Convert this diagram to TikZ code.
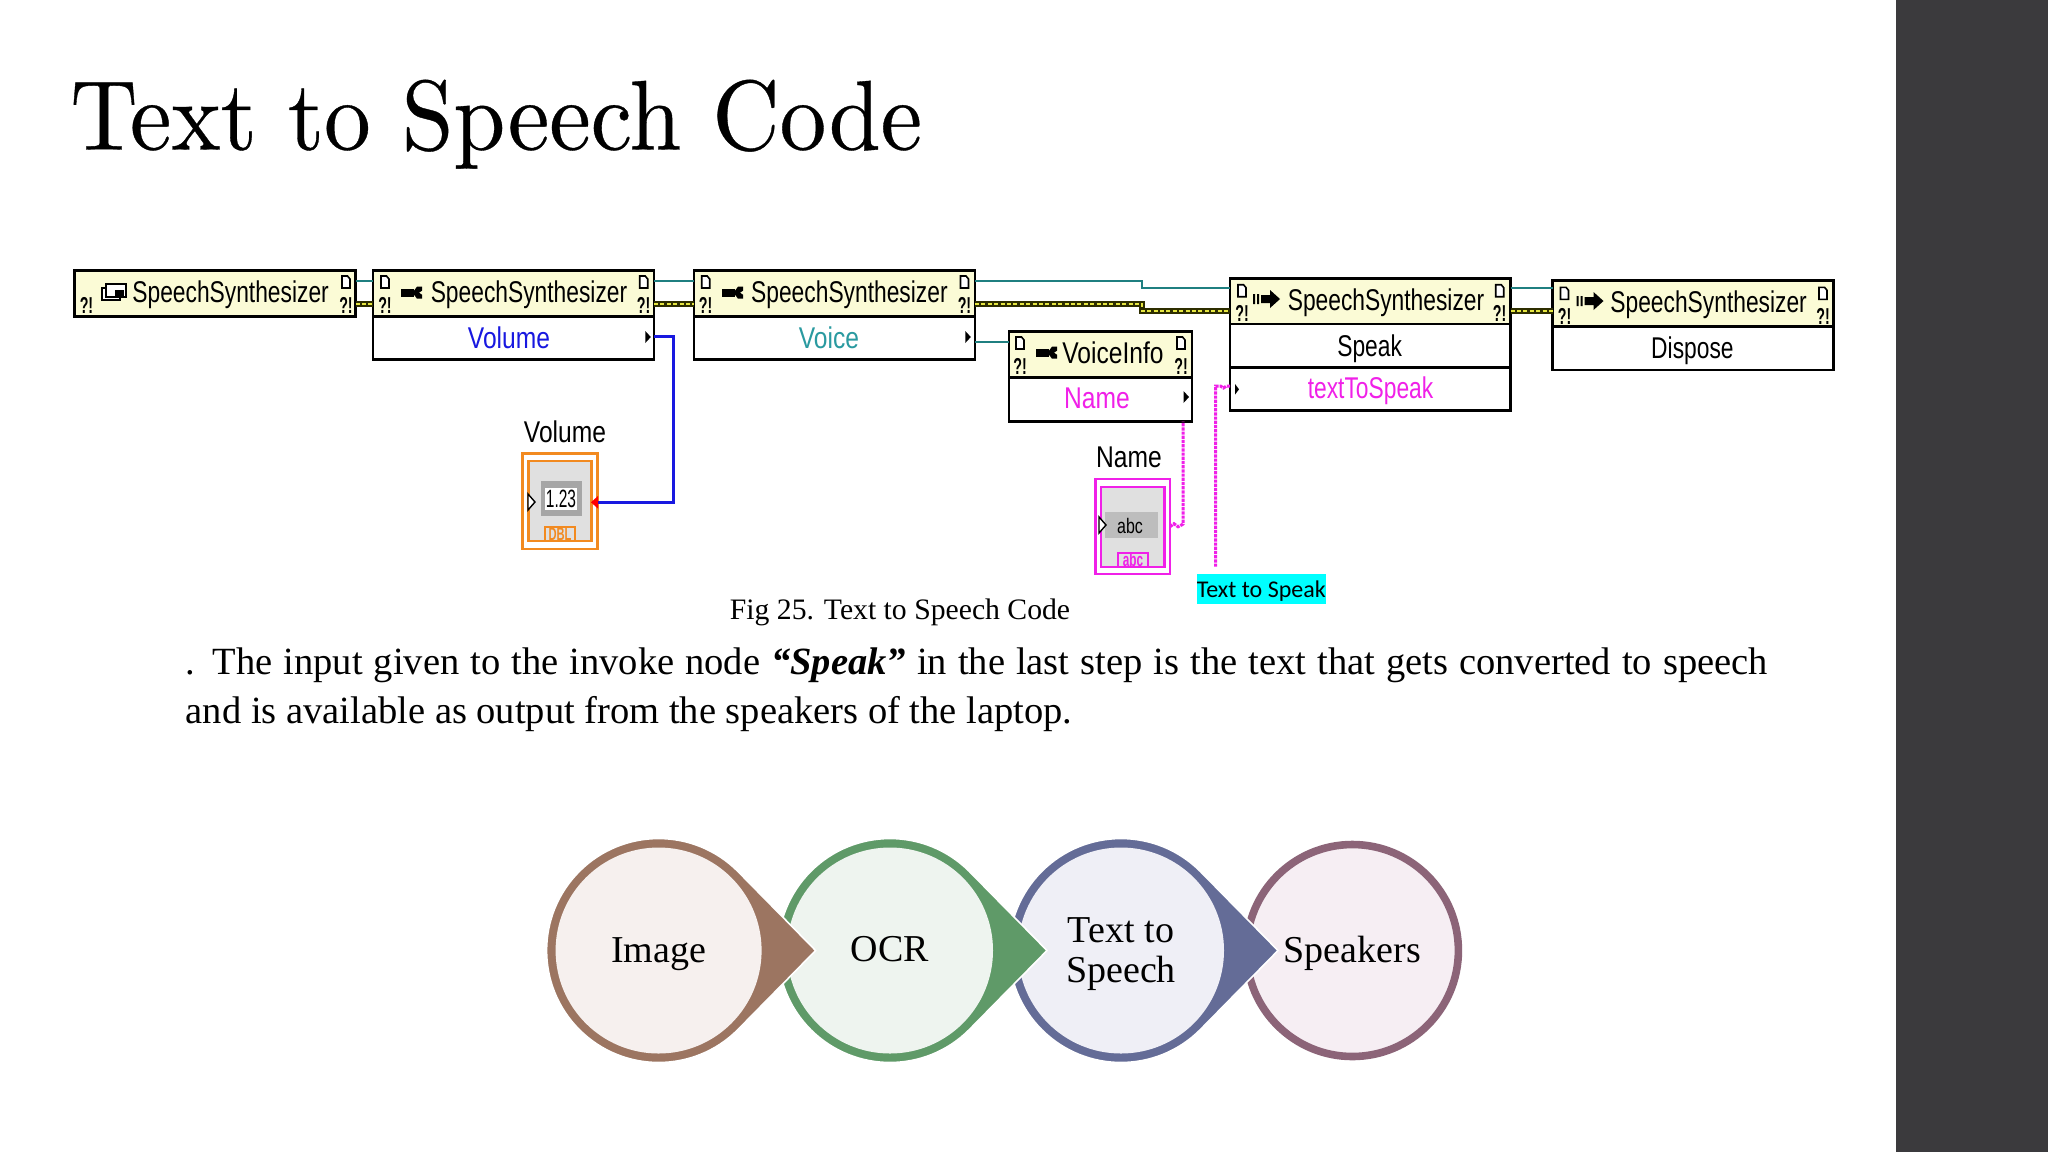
\documentclass[tikz,border=0pt]{standalone}
\usepackage{fontspec}
\newfontfamily\lvfont[FakeStretch=0.76]{Liberation Sans}
\newfontfamily\lvwide[FakeStretch=0.82]{Liberation Sans}
\newfontfamily\lvtiny[FakeStretch=0.62]{Liberation Sans}
\newfontfamily\serfont{Liberation Serif}
\newfontfamily\calfont{Carlito}
\newfontfamily\titlef[FakeBold=0.35]{Latin Modern Roman}
\definecolor{lvhead}{HTML}{FBFBD6}
\definecolor{tealw}{HTML}{1F7F80}
\definecolor{bluew}{HTML}{1818E0}
\definecolor{pinkw}{HTML}{F020E8}
\definecolor{orangew}{HTML}{F28A20}
\definecolor{voicec}{HTML}{2A9AA0}
\definecolor{sidebar}{HTML}{3B3A3D}
\definecolor{oliveb}{HTML}{2E2E00}
\definecolor{yellw}{HTML}{E6E640}
\definecolor{cyanl}{HTML}{00FFFF}
\definecolor{brownc}{HTML}{9C7561}\definecolor{brownf}{HTML}{F6F0EE}
\definecolor{greenc}{HTML}{5F9A68}\definecolor{greenf}{HTML}{EEF4EF}
\definecolor{bluec}{HTML}{646C97}\definecolor{bluef}{HTML}{EFEFF6}
\definecolor{mauvec}{HTML}{8C6478}\definecolor{mauvef}{HTML}{F6EEF3}
\newcommand\lvrect[6]{\node[#6, minimum width={(#4-#2)*0.5pt}, minimum height={(#5-#3)*0.5pt}] (#1) at ({(#2+#4)/2},{(#3+#5)/2}) {};}
\tikzset{
  x=0.5pt,y=-0.5pt,
  boxbase/.style={draw=black,line width=1.3pt,inner sep=0pt,outer sep=0pt},
  headbox/.style={boxbase,fill=lvhead},
  bodybox/.style={boxbase,fill=white},
  lvlabel/.style={inner sep=0pt,font=\lvfont\fontsize{15}{16}\selectfont},
  lvwlabel/.style={inner sep=0pt,font=\lvwide\fontsize{15}{16}\selectfont},
  tealwire/.style={draw=tealw,line width=1pt},
  refwire/.style={draw=oliveb,line width=3.4pt},
  refdots/.style={draw=yellw,line width=1.3pt,dash pattern=on 2pt off 1.2pt},
  bluewire/.style={draw=bluew,line width=1.4pt},
  pinkwire/.style={draw=pinkw,line width=1.5pt,dash pattern=on 1.6pt off .5pt},
  lverr/.style={inner sep=0pt,font=\lvtiny\bfseries\fontsize{11.5}{12}\selectfont},
  corner/.pic={
    \draw[line width=.8pt,fill=white] (-4,-6) -- (1.5,-6) -- (4,-3) -- (4,6) -- (-4,6) -- cycle;
    \node[lverr] (-e) at (0,23) {?!};
  },
  erronly/.pic={\node[lverr] (-e) at (0,0) {?!};},
  propicon/.pic={
    \fill (-10,-4) rectangle (3,4);
    \fill (3,-2) -- (6,-6) -- (11,-6) -- (11,-2) -- (8,0) -- (11,2) -- (11,6) -- (6,6) -- (3,2) -- cycle;
  },
  invicon/.pic={
    \fill (-14,-5) rectangle (-12,5) (-10,-5) rectangle (-8,5);
    \fill (-6,-4) rectangle (3,4) (3,-9) -- (13,0) -- (3,9) -- cycle;
  },
  newicon/.pic={
    \draw[line width=.8pt,fill=white] (-11,-5) rectangle (7,7);
    \draw[line width=.8pt,fill=white] (-7,-9) rectangle (13,4);
    \fill (2,-3) rectangle (11,3);
  },
  outtri/.pic={\fill (-2.5,-6) -- (3,0) -- (-2.5,6) -- cycle;},
  intri/.pic={\draw[line width=.7pt,fill=white] (-3,-8) -- (4,0) -- (-3,8) -- cycle;},
  circfill/.style={circle,inner sep=0pt,minimum size=103pt},
  circtext/.style={inner sep=0pt,align=center,text=black,font=\serfont\fontsize{19}{20}\selectfont},
}
\begin{document}
\begin{tikzpicture}
\useasboundingbox (0,0) rectangle (2048,1152);
\fill[white] (0,0) rectangle (2048,1152);
\fill[sidebar] (1896,0) rectangle (2048,1152);

\node[anchor=base west,inner sep=0pt,font=\titlef\fontsize{10}{12}\selectfont] (title) at (70,149.5) {\scalebox{4.66}[4.95]{Text to Speech Code}};

% wire levels
\coordinate (lt) at (0,280.7);
\coordinate (lt2) at (0,288.3);
\coordinate (ly) at (0,304);
\coordinate (ly2) at (0,311);
\coordinate (lv) at (0,336.7);
\coordinate (lvo) at (0,341.7);
\coordinate (lb) at (0,502.3);
\coordinate (lp) at (0,526.7);
\coordinate (ls) at (0,386);
\coordinate (mtop) at (1142,0);
\coordinate (xb) at (673.5,0);
\coordinate (xp) at (1183,0);
\coordinate (xs) at (1215.5,0);
\coordinate (sfree) at (1215.5,566.7);

% boxes
\lvrect{h1}{74.3}{270.7}{355.5}{316.7}{headbox}
\lvrect{b2}{373}{316.7}{654}{359.3}{bodybox}
\lvrect{h2}{373}{270.7}{654}{316.7}{headbox}
\lvrect{b3}{694}{316.7}{975}{359.3}{bodybox}
\lvrect{h3}{694}{270.7}{975}{316.7}{headbox}
\lvrect{b4}{1009}{377.3}{1192}{421.7}{bodybox}
\lvrect{h4}{1009}{331.7}{1192}{377.3}{headbox}
\lvrect{b5a}{1230}{324}{1510.6}{367.3}{bodybox}
\lvrect{b5b}{1230}{367.3}{1510.6}{410.7}{bodybox}
\lvrect{h5}{1230}{278.3}{1510.6}{324}{headbox}
\lvrect{b6}{1552.7}{326.7}{1833.4}{370}{bodybox}
\lvrect{h6}{1552.7}{280.7}{1833.4}{326.7}{headbox}

% reference wires
\foreach \a/\b/\l in {h1/h2/ly,h2/h3/ly}{
  \draw[refwire] (\a.east |- \l) -- (\b.west |- \l);
  \draw[refdots] (\a.east |- \l) -- (\b.west |- \l);
}
\draw[refwire] (h3.east |- ly) -- (mtop |- ly) -- (mtop |- ly2) -- (h5.west |- ly2);
\draw[refdots] (h3.east |- ly) -- (mtop |- ly) -- (mtop |- ly2) -- (h5.west |- ly2);
\draw[refwire] (h5.east |- ly2) -- (h6.west |- ly2);
\draw[refdots] (h5.east |- ly2) -- (h6.west |- ly2);
% session wires
\draw[tealwire] (h1.east |- lt) -- (h2.west |- lt);
\draw[tealwire] (h2.east |- lt) -- (h3.west |- lt);
\draw[tealwire] (h3.east |- lt) -- (mtop |- lt) -- (mtop |- lt2) -- (h5.west |- lt2);
\draw[tealwire] (h5.east |- lt2) -- (h6.west |- lt2);
\draw[tealwire] (b3.east |- lvo) -- (h4.west |- lvo);

% Volume terminal
\lvrect{vo}{522.5}{453.3}{597.5}{549}{draw=orangew,line width=1.2pt,fill=white,inner sep=0pt,outer sep=0pt}
\lvrect{vi}{528.6}{460.7}{591.4}{540.7}{draw=orangew,line width=1.2pt,fill=black!12,inner sep=0pt,outer sep=0pt}
\lvrect{vd}{541}{481}{581.6}{515.7}{fill=black!35,inner sep=0pt}
\node[fill=white,minimum width=16pt,minimum height=11pt,inner sep=0pt,font=\lvtiny\fontsize{12.5}{13}\selectfont] (vn) at (561,499) {1.23};
\node[draw=orangew,line width=1pt,fill=black!12,text=orangew,minimum width=15pt,minimum height=7pt,inner sep=0pt,font=\lvtiny\bfseries\fontsize{9}{9}\selectfont] (vt) at (560,534) {DBL};
\pic at (531,502) {intri};
\node[lvwlabel] (vl) at (565,431.7) {Volume};
\draw[bluewire] (b2.east |- lv) -- (xb |- lv) -- (xb |- lb) -- (vo.east |- lb);
\fill[red] (591,502.3) -- (598,496) -- (598,508.6) -- cycle;

% Name terminal
\lvrect{no}{1095.5}{479}{1170}{574}{draw=pinkw,line width=1.2pt,fill=white,inner sep=0pt,outer sep=0pt}
\lvrect{ni}{1101}{486.7}{1164.5}{566.7}{draw=pinkw,line width=1.2pt,fill=black!12,inner sep=0pt,outer sep=0pt}
\lvrect{nd}{1105}{511.7}{1158}{538.3}{fill=black!26,inner sep=0pt}
\node[inner sep=0pt,font=\lvfont\fontsize{10.5}{11}\selectfont] (nn) at (1130,526) {abc};
\node[draw=pinkw,line width=1pt,fill=black!12,text=pinkw,minimum width=15pt,minimum height=7pt,inner sep=0pt,font=\lvtiny\bfseries\fontsize{9.5}{9}\selectfont] (nt) at (1133,560) {abc};
\pic at (1102,525) {intri};
\node[lvwlabel] (nl) at (1129,457.3) {Name};
\draw[pinkwire] (no.east |- lp) -- ++(4,-3) -- ++(4,3) -- ++(4,-2) -- (xp |- 0,524) -- (xp |- b4.south);
\draw[pinkwire] (sfree) -- (xs |- ls) -- ++(5,0) -- ++(3,2) -- ++(3,-2) -- (h5.west |- ls);

% header labels
\node[lvlabel] (t1) at (230.6,295) {SpeechSynthesizer};
\node[lvlabel] (t2) at (529,295) {SpeechSynthesizer};
\node[lvlabel] (t3) at (849.4,295) {SpeechSynthesizer};
\node[lvwlabel] (t4) at (1113,352.7) {VoiceInfo};
\node[lvlabel] (t5) at (1386,303.2) {SpeechSynthesizer};
\node[lvlabel] (t6) at (1708.6,304.5) {SpeechSynthesizer};
\node[lvwlabel,text=bluew] (p2) at (509,337.3) {Volume};
\node[lvwlabel,text=voicec] (p3) at (829,337.3) {Voice};
\node[lvwlabel,text=pinkw] (p4) at (1097,398.8) {Name};
\node[lvlabel] (p5) at (1369.6,348.5) {Speak};
\node[lvlabel,text=pinkw] (p5b) at (1370.5,390.8) {textToSpeak};
\node[lvlabel] (p6) at (1692.4,350.8) {Dispose};

% icons
\pic at (113,292.7) {newicon};
\pic at (411,292.7) {propicon};
\pic at (732,292.7) {propicon};
\pic at (1046,352.7) {propicon};
\pic at (1267,299) {invicon};
\pic at (1590.5,301) {invicon};
\pic (e1) at (86.5,305) {erronly};
\pic (c1r) at (346,282) {corner};
\pic (c2l) at (385,282) {corner};
\pic (c2r) at (643.7,282) {corner};
\pic (c3l) at (705.7,282) {corner};
\pic (c3r) at (964.5,282) {corner};
\pic (c4l) at (1020,343) {corner};
\pic (c4r) at (1181,343) {corner};
\pic (c5l) at (1242,290.7) {corner};
\pic (c5r) at (1499.7,290.7) {corner};
\pic (c6l) at (1564.5,293.3) {corner};
\pic (c6r) at (1823,293.3) {corner};
\pic at (647.8,337) {outtri};
\pic at (967.8,337) {outtri};
\pic at (1186,397) {outtri};
\fill (1235,384) -- (1239,389.3) -- (1235,394.6) -- cycle;

% cyan label
\node[inner sep=0pt,minimum width=64pt,minimum height=15pt,fill=cyanl,font=\calfont\fontsize{12}{13}\selectfont] (ts) at (1261.3,589.2) {\raisebox{-4pt}[0pt][0pt]{Text to Speak}};

% caption and body
\node[inner sep=0pt,font=\serfont\fontsize{14.85}{16}\selectfont] (cap) at (900,612.5) {Fig 25. Text to Speech Code};
\node[anchor=base west,inner sep=0pt,text width=791pt,align=justify,font=\serfont\fontsize{19.25}{24.7}\selectfont] (body) at (185.5,674)
 {. The input given to the invoke node \textbf{\textit{“Speak”}} in the last step is the text that gets converted to speech\linebreak and is available as output from the speakers of the laptop.};

% process chain (last first, so each arrow lies over the next circle)
\node[circfill,fill=mauvef,draw=mauvec,line width=3.8pt,minimum size=106pt] (c4) at (1352.4,950.5) {};
\node[circtext] (l4) at (1352.4,953.5) {Speakers};
\foreach \cx/\col/\fc/\nm/\lb/\dy/\txt in {1121/bluec/bluef/c3/l3/4/{Text to\\Speech},890/greenc/greenf/c2/l2/-1/OCR,658.6/brownc/brownf/c1/l1/4/Image}{
  \path[fill=\col,draw=white,line width=.8pt]
     ({\cx+79.2},{950.5+79.2}) arc[start angle=45,end angle=315,radius=112] -- ({\cx+157},950.5) -- cycle;
  \node[circfill,fill=\fc] (\nm) at (\cx,950.5) {};
  \node[circtext] (\lb) at (\cx,950.5+\dy) {\txt};
}
\end{tikzpicture}
\end{document}
